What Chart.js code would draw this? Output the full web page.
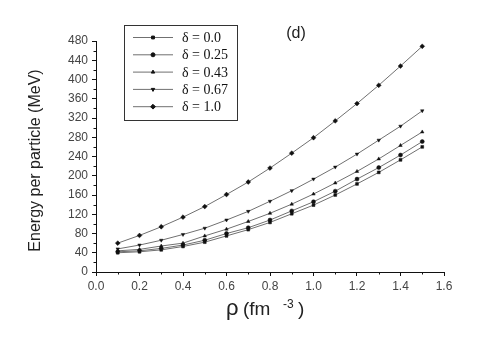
<!DOCTYPE html>
<html>
<head>
<meta charset="utf-8">
<script src="https://cdn.jsdelivr.net/npm/chart.js@4/dist/chart.umd.min.js"></script>
<style>
  html, body { margin: 0; padding: 0; background: #fff; }
  #wrap { width: 480px; height: 346px; }
</style>
</head>
<body>
<div id="wrap"><canvas id="myChart" width="480" height="346"></canvas></div>
<script>
'use strict';

// density rho (fm^-3)
let rho = [0.1, 0.2, 0.3, 0.4, 0.5, 0.6, 0.7, 0.8, 0.9, 1.0, 1.1, 1.2, 1.3, 1.4, 1.5];

// energy per particle (MeV) for each asymmetry delta
let delta00 = [40, 42, 46, 53, 62, 75, 88, 103, 121, 139, 160, 183, 207, 233, 260];
let delta025 = [42, 44, 49, 56, 66, 80, 92, 108, 127, 146, 168, 193, 217, 243, 271];
let delta043 = [44, 47, 54, 60, 75, 89, 105, 122, 141, 162, 185, 209, 235, 263, 291];
let delta067 = [48, 56, 66, 78, 91, 108, 126, 147, 169, 193, 218, 245, 274, 303, 335];
let delta10 = [60, 76, 94, 114, 136, 161, 187, 216, 247, 279, 314, 350, 388, 428, 469];

let seriesLabels = ['δ = 0.0', 'δ = 0.25', 'δ = 0.43', 'δ = 0.67', 'δ = 1.0'];
let seriesValues = [delta00, delta025, delta043, delta067, delta10];
let markers = ['rect', 'circle', 'triangle', 'triangle', 'rectRot'];
let rotations = [0, 0, 0, 180, 0];

let xTitle = 'ρ';
let xTitleUnit = '(fm';
let xTitleSup = '-3';
let yTitle = 'Energy per particle (MeV)';
let panelLabel = '(d)';

const sans = '"Liberation Sans", Arial, sans-serif';
const serif = '"Liberation Serif", "Times New Roman", serif';

function points(values) {
    let out = [];
    for (let i = 0; i < rho.length; i++) {
        out.push({ x: rho[i], y: values[i] });
    }
    return out;
}

let datasets = [];
for (let i = 0; i < seriesValues.length; i++) {
    datasets.push({
        label: seriesLabels[i],
        data: points(seriesValues[i]),
        showLine: true,
        borderColor: '#707070',
        borderWidth: 1,
        pointStyle: markers[i],
        rotation: rotations[i],
        pointRadius: markers[i] === 'rectRot' ? 2.4 : 2,
        pointBackgroundColor: '#111',
        pointBorderColor: '#111',
        pointBorderWidth: 0.5,
        tension: 0
    });
}

// minor ticks, titles, legend box and panel label
const extras = {
    id: 'extras',
    afterDraw(chart) {
        const ctx = chart.ctx;
        const xs = chart.scales.x;
        const ys = chart.scales.y;
        const area = chart.chartArea;

        ctx.save();
        ctx.strokeStyle = '#111';
        ctx.lineWidth = 1;
        ctx.beginPath();
        for (let v = 0.1; v < 1.6; v += 0.2) {
            let px = Math.round(xs.getPixelForValue(v)) + 0.5;
            ctx.moveTo(px, area.bottom);
            ctx.lineTo(px, area.bottom + 2.5);
        }
        for (let v = 20; v < 480; v += 40) {
            let py = Math.round(ys.getPixelForValue(v)) + 0.5;
            ctx.moveTo(area.left, py);
            ctx.lineTo(area.left - 2.5, py);
        }
        ctx.stroke();

        // y title
        ctx.fillStyle = '#222';
        ctx.font = '16px ' + sans;
        ctx.textAlign = 'center';
        ctx.textBaseline = 'middle';
        ctx.save();
        ctx.translate(36, (area.top + area.bottom) / 2 + 4);
        ctx.rotate(-Math.PI / 2);
        ctx.fillText(yTitle, 0, 0);
        ctx.restore();

        // x title with superscript
        ctx.textAlign = 'left';
        ctx.textBaseline = 'alphabetic';
        ctx.font = '22px ' + sans;
        ctx.fillText(xTitle, 226, 315);
        ctx.font = '19px ' + sans;
        ctx.fillText(xTitleUnit, 243, 315);
        ctx.font = '12px ' + sans;
        ctx.fillText(xTitleSup, 283, 308);
        ctx.font = '19px ' + sans;
        ctx.fillText(')', 298, 315);

        // panel label
        ctx.font = '16px ' + sans;
        ctx.textAlign = 'center';
        ctx.textBaseline = 'middle';
        ctx.fillText(panelLabel, 296, 34);

        // legend
        ctx.strokeStyle = '#333';
        ctx.lineWidth = 1;
        ctx.strokeRect(124.5, 25.5, 113, 95);
        chart.data.datasets.forEach(function (ds, i) {
            let y = 37.5 + i * 17.3;
            ctx.strokeStyle = '#707070';
            ctx.beginPath();
            ctx.moveTo(133, y);
            ctx.lineTo(173, y);
            ctx.stroke();
            ctx.fillStyle = '#111';
            ctx.strokeStyle = '#111';
            Chart.helpers.drawPoint(ctx, {
                pointStyle: ds.pointStyle,
                rotation: ds.rotation,
                radius: ds.pointRadius,
                borderWidth: 0.5
            }, 153, y);
            ctx.fillStyle = '#111';
            ctx.font = '14px ' + serif;
            ctx.textAlign = 'left';
            ctx.textBaseline = 'middle';
            ctx.fillText(ds.label, 182, y + 1);
        });
        ctx.restore();
    }
};

const config = {
    type: 'scatter',
    data: { datasets: datasets },
    options: {
        responsive: false,
        animation: false,
        layout: { padding: { top: 41, right: 36, left: 0, bottom: 0 } },
        plugins: {
            legend: { display: false },
            tooltip: { enabled: false }
        },
        scales: {
            x: {
                type: 'linear',
                min: 0,
                max: 1.6,
                afterFit: function (scale) { scale.height = 74; },
                border: { display: true, color: '#111', width: 1 },
                grid: { drawOnChartArea: false, tickLength: 4, color: '#111' },
                ticks: {
                    stepSize: 0.2,
                    padding: 3,
                    color: '#444',
                    font: { family: sans, size: 12 },
                    callback: function (v) { return Number(v).toFixed(1); }
                }
            },
            y: {
                min: 0,
                max: 480,
                afterFit: function (scale) { scale.width = 96; },
                border: { display: true, color: '#111', width: 1 },
                grid: { drawOnChartArea: false, tickLength: 4, color: '#111' },
                ticks: {
                    stepSize: 40,
                    padding: 4,
                    color: '#444',
                    font: { family: sans, size: 12 }
                }
            }
        }
    },
    plugins: [extras]
};

var myChart = new Chart(document.getElementById('myChart'), config);
</script>
</body>
</html>
